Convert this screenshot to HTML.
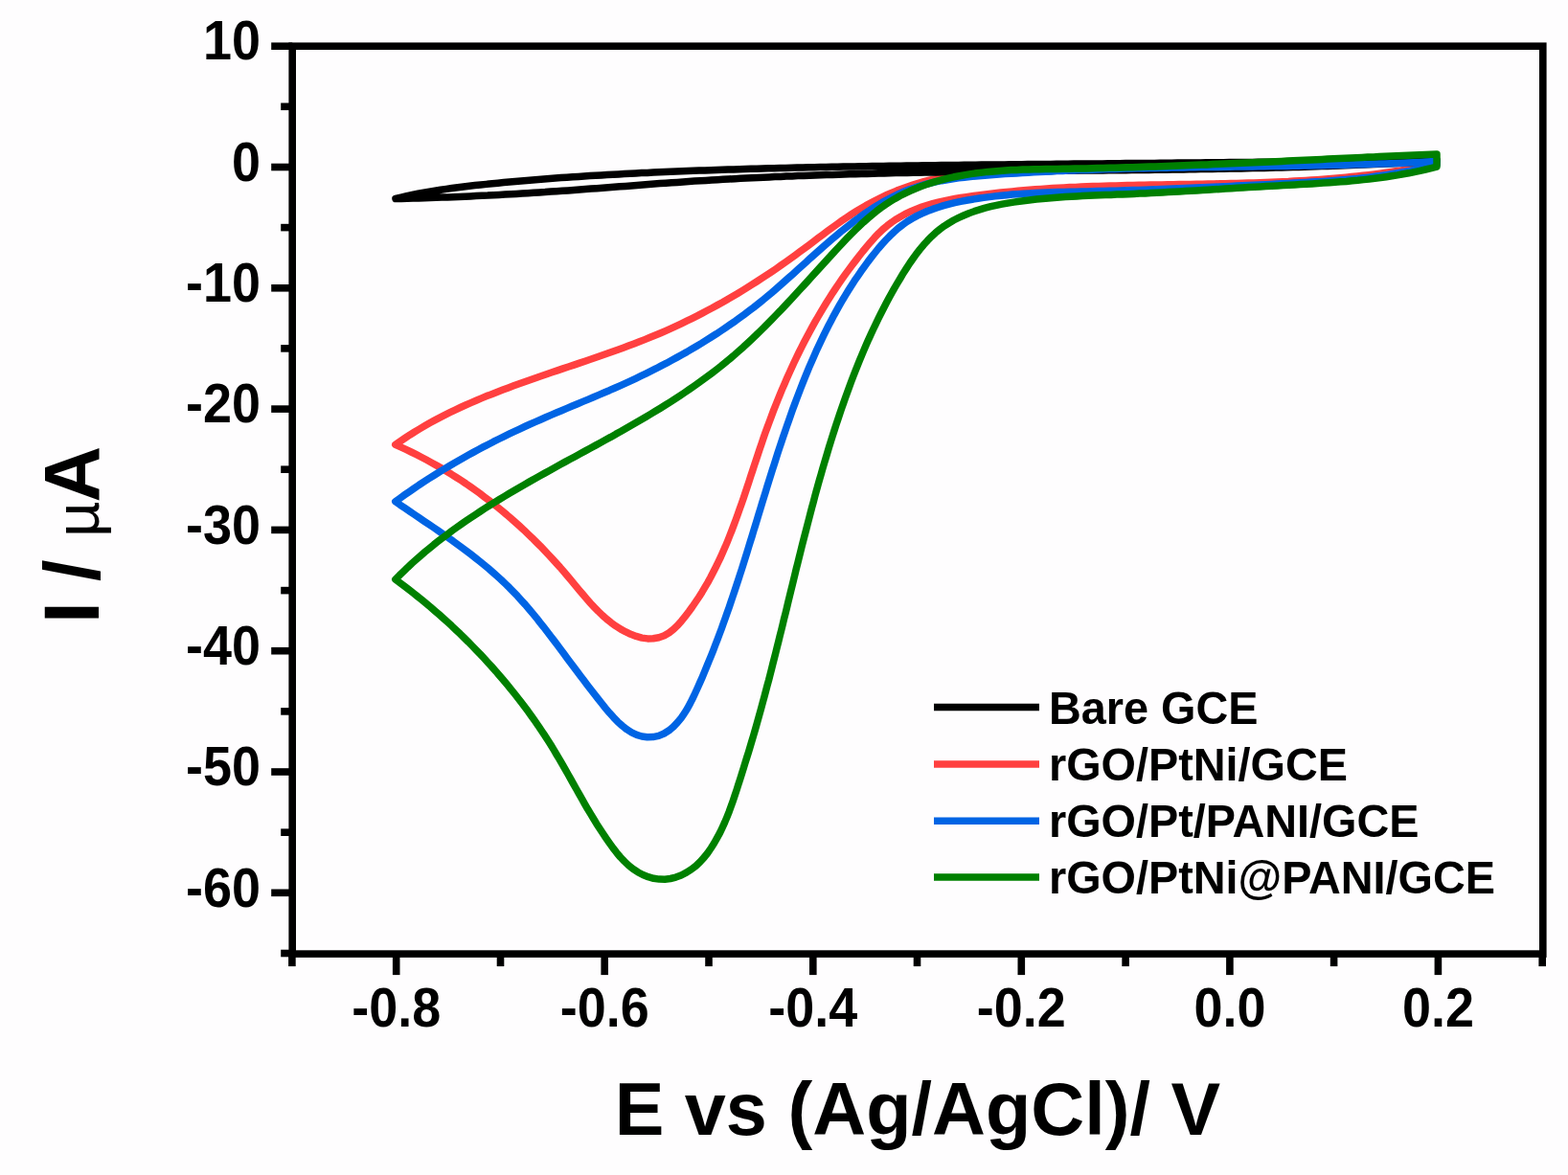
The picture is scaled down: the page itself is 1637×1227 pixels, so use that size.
<!DOCTYPE html>
<html><head><meta charset="utf-8"><title>CV plot</title>
<style>
html,body{margin:0;padding:0;background:#fff;}
body{width:1637px;height:1227px;overflow:hidden;}
svg{display:block;}
text{font-family:"Liberation Sans",Arial,sans-serif;font-weight:bold;fill:#000;}
</style></head><body>
<svg width="1637" height="1227" viewBox="0 0 1637 1227">
<rect width="1637" height="1227" fill="#fefdfe"/>
<g fill="none" stroke-width="7.5" stroke-linejoin="round" stroke-linecap="round">
<path stroke="#ff4040" d="M1500.0 168.5L1493.9 168.6L1487.9 168.7L1481.8 168.8L1475.8 169.0L1469.7 169.1L1463.7 169.2L1457.6 169.3L1451.6 169.5L1445.5 169.6L1439.5 169.7L1433.5 169.9L1427.4 170.0L1421.4 170.1L1415.4 170.3L1409.4 170.4L1403.3 170.6L1397.3 170.7L1391.3 170.9L1385.3 171.0L1379.3 171.2L1373.3 171.3L1367.3 171.4L1361.2 171.6L1355.2 171.8L1349.2 171.9L1343.2 172.1L1337.2 172.2L1331.2 172.4L1325.2 172.5L1319.2 172.7L1313.2 172.8L1307.2 173.0L1301.2 173.1L1295.2 173.3L1289.2 173.5L1283.2 173.6L1277.2 173.8L1271.2 173.9L1265.2 174.1L1259.2 174.2L1253.2 174.4L1247.2 174.5L1241.2 174.7L1235.1 174.8L1229.1 175.0L1223.1 175.1L1217.1 175.3L1211.1 175.4L1205.1 175.6L1199.1 175.7L1193.0 175.9L1187.0 176.0L1181.0 176.2L1175.0 176.3L1168.9 176.5L1162.9 176.6L1156.9 176.7L1150.8 176.9L1144.8 177.0L1138.7 177.1L1132.7 177.3L1126.6 177.4L1120.6 177.5L1114.5 177.6L1108.5 177.8L1102.4 177.9L1096.3 178.0L1090.3 178.1L1084.2 178.2L1078.1 178.3L1072.0 178.4L1065.9 178.5L1059.8 178.7L1053.7 178.8L1047.7 179.0L1041.6 179.3L1035.5 179.5L1029.5 179.9L1023.5 180.3L1017.4 180.7L1011.4 181.3L1005.5 182.0L999.5 182.7L993.6 183.6L987.7 184.5L981.8 185.6L976.0 186.8L970.2 188.2L964.4 189.7L958.7 191.3L953.0 193.1L947.4 195.0L941.8 197.0L936.2 199.1L930.7 201.4L925.3 203.8L919.9 206.3L914.5 209.0L909.2 211.8L904.0 214.6L898.8 217.7L893.7 220.8L888.6 224.0L883.6 227.3L878.7 230.7L873.7 234.2L868.8 237.7L863.9 241.3L859.1 244.9L854.2 248.6L849.4 252.2L844.5 255.9L839.7 259.5L834.8 263.1L829.9 266.7L825.0 270.3L820.1 273.8L815.2 277.2L810.2 280.7L805.2 284.1L800.2 287.4L795.2 290.7L790.1 294.0L785.1 297.2L780.0 300.4L774.8 303.6L769.7 306.7L764.5 309.7L759.4 312.7L754.2 315.7L748.9 318.6L743.7 321.5L738.4 324.3L733.1 327.1L727.8 329.9L722.4 332.6L717.0 335.2L711.6 337.8L706.2 340.3L700.8 342.8L695.3 345.3L689.8 347.7L684.3 350.0L678.7 352.3L673.1 354.6L667.5 356.8L661.9 358.9L656.3 361.1L650.6 363.2L645.0 365.2L639.3 367.3L633.6 369.3L627.9 371.3L622.2 373.3L616.4 375.2L610.7 377.2L605.0 379.1L599.2 381.1L593.5 383.0L587.8 384.9L582.0 386.9L576.3 388.8L570.6 390.8L564.8 392.7L559.1 394.7L553.4 396.7L547.7 398.7L542.0 400.7L536.3 402.8L530.7 404.9L525.0 407.0L519.4 409.2L513.8 411.4L508.2 413.6L502.6 415.9L497.1 418.2L491.6 420.6L486.1 423.0L480.6 425.5L475.2 428.1L469.8 430.7L464.4 433.4L459.1 436.1L453.8 438.9L448.5 441.8L443.3 444.8L438.1 447.9L432.9 451.0L427.8 454.2L422.8 457.5L417.8 460.9L412.8 464.4L418.4 466.9L423.9 469.4L429.3 472.0L434.7 474.7L440.1 477.5L445.4 480.3L450.7 483.2L455.9 486.1L461.1 489.1L466.3 492.2L471.4 495.3L476.4 498.5L481.4 501.7L486.4 505.0L491.3 508.4L496.1 511.8L501.0 515.3L505.7 518.9L510.5 522.5L515.2 526.2L519.8 529.9L524.4 533.7L529.0 537.5L533.5 541.4L538.0 545.4L542.5 549.4L546.9 553.4L551.2 557.6L555.5 561.7L559.8 566.0L564.1 570.2L568.3 574.6L572.4 579.0L576.5 583.4L580.6 587.9L584.7 592.4L588.7 597.0L592.7 601.7L596.6 606.4L600.5 611.1L604.4 615.8L608.4 620.5L612.3 625.1L616.3 629.7L620.4 634.1L624.6 638.4L629.0 642.6L633.4 646.5L638.0 650.2L642.8 653.7L647.8 656.9L653.0 659.7L658.5 662.3L664.2 664.4L670.1 666.1L676.1 666.9L682.0 666.8L687.9 665.7L693.5 663.7L698.6 660.7L703.3 657.0L707.7 652.8L711.7 648.2L715.6 643.3L719.3 638.5L722.9 633.5L726.3 628.5L729.7 623.5L732.9 618.4L736.0 613.2L739.0 608.1L741.9 602.8L744.6 597.5L747.3 592.2L749.9 586.9L752.5 581.5L754.9 576.0L757.3 570.6L759.6 565.1L761.8 559.5L764.0 554.0L766.1 548.4L768.2 542.8L770.2 537.2L772.2 531.5L774.2 525.9L776.2 520.2L778.1 514.5L780.0 508.8L781.9 503.1L783.7 497.4L785.6 491.7L787.5 485.9L789.4 480.2L791.3 474.5L793.2 468.8L795.2 463.0L797.1 457.3L799.1 451.6L801.2 445.9L803.3 440.2L805.4 434.6L807.5 428.9L809.7 423.3L812.0 417.6L814.3 412.0L816.6 406.4L819.0 400.9L821.4 395.3L823.9 389.8L826.4 384.3L828.9 378.8L831.5 373.4L834.1 368.0L836.8 362.6L839.5 357.3L842.3 351.9L845.1 346.7L848.0 341.4L850.9 336.2L853.9 331.0L856.9 325.9L859.9 320.8L863.0 315.7L866.2 310.7L869.3 305.8L872.6 300.9L875.9 296.0L879.2 291.2L882.6 286.4L886.1 281.6L889.7 276.8L893.3 272.1L897.0 267.3L900.8 262.5L904.8 257.7L908.8 252.9L913.0 248.2L917.3 243.7L921.7 239.5L926.4 235.6L931.1 232.0L936.0 228.7L941.1 225.7L946.3 222.9L951.6 220.4L957.0 218.2L962.5 216.1L968.1 214.3L973.7 212.6L979.5 211.1L985.3 209.8L991.1 208.6L997.0 207.5L1002.9 206.5L1008.9 205.6L1014.9 204.7L1020.9 203.9L1026.8 203.1L1032.8 202.4L1038.8 201.7L1044.8 201.1L1050.8 200.5L1056.8 199.9L1062.8 199.3L1068.8 198.8L1074.8 198.3L1080.8 197.8L1086.8 197.4L1092.8 197.0L1098.8 196.6L1104.8 196.3L1110.8 195.9L1116.8 195.6L1122.8 195.4L1128.8 195.1L1134.8 194.8L1140.8 194.6L1146.8 194.4L1152.8 194.2L1158.9 194.0L1164.9 193.9L1170.9 193.7L1176.9 193.5L1182.9 193.4L1188.9 193.3L1194.9 193.2L1200.9 193.1L1207.0 193.0L1213.0 192.9L1219.0 192.8L1225.0 192.7L1231.0 192.6L1237.0 192.5L1243.0 192.4L1249.1 192.3L1255.1 192.2L1261.1 192.1L1267.1 192.0L1273.1 191.8L1279.1 191.7L1285.1 191.6L1291.1 191.4L1297.1 191.3L1303.1 191.1L1309.1 190.9L1315.1 190.7L1321.1 190.5L1327.1 190.3L1333.1 190.0L1339.1 189.7L1345.1 189.5L1351.1 189.1L1357.1 188.8L1363.1 188.4L1369.0 188.1L1375.0 187.7L1381.0 187.2L1387.0 186.8L1393.0 186.3L1398.9 185.7L1404.9 185.2L1410.9 184.6L1416.8 184.0L1422.8 183.3L1428.8 182.6L1434.7 181.9L1440.7 181.1L1446.6 180.3L1452.6 179.4L1458.5 178.5L1464.4 177.6L1470.4 176.6L1476.3 175.6L1482.2 174.5L1488.2 173.4L1494.1 172.2L1500.0 171.0Z"/>
<path stroke="#000" d="M1500.0 167.0L1494.0 167.1L1488.0 167.2L1481.9 167.3L1475.9 167.4L1469.9 167.4L1463.9 167.5L1457.9 167.6L1451.9 167.7L1445.8 167.8L1439.8 167.8L1433.8 167.9L1427.8 168.0L1421.8 168.1L1415.8 168.2L1409.7 168.2L1403.7 168.3L1397.7 168.4L1391.7 168.4L1385.7 168.5L1379.7 168.6L1373.6 168.7L1367.6 168.7L1361.6 168.8L1355.6 168.9L1349.6 168.9L1343.6 169.0L1337.5 169.1L1331.5 169.1L1325.5 169.2L1319.5 169.2L1313.5 169.3L1307.5 169.4L1301.5 169.4L1295.4 169.5L1289.4 169.5L1283.4 169.6L1277.4 169.7L1271.4 169.7L1265.4 169.8L1259.3 169.8L1253.3 169.9L1247.3 170.0L1241.3 170.0L1235.3 170.1L1229.3 170.1L1223.2 170.2L1217.2 170.2L1211.2 170.3L1205.2 170.4L1199.2 170.4L1193.2 170.5L1187.1 170.5L1181.1 170.6L1175.1 170.6L1169.1 170.7L1163.1 170.7L1157.1 170.8L1151.0 170.9L1145.0 170.9L1139.0 171.0L1133.0 171.0L1127.0 171.1L1121.0 171.1L1114.9 171.2L1108.9 171.3L1102.9 171.3L1096.9 171.4L1090.9 171.4L1084.9 171.5L1078.8 171.6L1072.8 171.6L1066.8 171.7L1060.8 171.7L1054.8 171.8L1048.8 171.9L1042.7 171.9L1036.7 172.0L1030.7 172.1L1024.7 172.1L1018.7 172.2L1012.7 172.3L1006.6 172.3L1000.6 172.4L994.6 172.5L988.6 172.5L982.6 172.6L976.6 172.7L970.5 172.8L964.5 172.8L958.5 172.9L952.5 173.0L946.5 173.1L940.5 173.2L934.4 173.2L928.4 173.3L922.4 173.4L916.4 173.5L910.4 173.6L904.4 173.7L898.3 173.8L892.3 173.9L886.3 174.0L880.3 174.1L874.3 174.2L868.3 174.3L862.3 174.5L856.2 174.6L850.2 174.7L844.2 174.8L838.2 175.0L832.2 175.1L826.2 175.2L820.1 175.4L814.1 175.5L808.1 175.7L802.1 175.8L796.1 176.0L790.1 176.2L784.1 176.3L778.0 176.5L772.0 176.7L766.0 176.9L760.0 177.1L754.0 177.3L748.0 177.5L742.0 177.7L736.0 177.9L729.9 178.1L723.9 178.3L717.9 178.6L711.9 178.8L705.9 179.0L699.9 179.3L693.9 179.5L687.9 179.8L681.9 180.1L675.8 180.4L669.8 180.6L663.8 180.9L657.8 181.2L651.8 181.5L645.8 181.9L639.8 182.2L633.8 182.5L627.8 182.9L621.8 183.2L615.8 183.6L609.8 184.0L603.8 184.4L597.8 184.8L591.8 185.2L585.8 185.6L579.8 186.0L573.8 186.5L567.8 187.0L561.8 187.4L555.8 187.9L549.8 188.4L543.8 188.9L537.8 189.5L531.8 190.0L525.8 190.6L519.8 191.2L513.8 191.7L507.8 192.4L501.8 193.0L495.8 193.6L489.9 194.3L483.9 195.0L477.9 195.8L471.9 196.5L466.0 197.4L460.0 198.2L454.1 199.2L448.2 200.1L442.3 201.2L436.4 202.3L430.5 203.5L424.7 204.7L418.8 206.1L413.0 207.5L419.0 207.4L425.0 207.2L431.0 207.1L437.0 206.9L443.1 206.7L449.1 206.5L455.1 206.3L461.1 206.1L467.1 205.9L473.1 205.7L479.1 205.4L485.1 205.2L491.1 204.9L497.1 204.6L503.1 204.3L509.1 204.1L515.1 203.7L521.1 203.4L527.1 203.1L533.1 202.8L539.1 202.4L545.1 202.1L551.1 201.7L557.1 201.3L563.1 200.9L569.1 200.6L575.1 200.1L581.1 199.7L587.1 199.3L593.1 198.9L599.1 198.5L605.1 198.0L611.1 197.6L617.1 197.1L623.1 196.7L629.1 196.2L635.1 195.7L641.1 195.3L647.1 194.8L653.1 194.4L659.0 193.9L665.0 193.4L671.0 193.0L677.0 192.5L683.0 192.1L689.0 191.6L695.0 191.2L701.0 190.8L707.0 190.4L713.0 189.9L719.0 189.5L725.0 189.1L731.0 188.8L737.0 188.4L743.0 188.0L749.0 187.7L755.0 187.3L761.0 187.0L767.0 186.7L773.0 186.3L779.0 186.0L785.0 185.7L791.0 185.4L797.0 185.2L803.0 184.9L809.0 184.6L815.0 184.4L821.0 184.1L827.0 183.9L833.0 183.6L839.0 183.4L845.0 183.2L851.0 183.0L857.0 182.8L863.0 182.6L869.0 182.4L875.1 182.2L881.1 182.0L887.1 181.8L893.1 181.7L899.1 181.5L905.1 181.4L911.1 181.2L917.1 181.1L923.1 180.9L929.1 180.8L935.1 180.6L941.1 180.5L947.1 180.4L953.2 180.3L959.2 180.2L965.2 180.1L971.2 180.0L977.2 179.9L983.2 179.8L989.2 179.7L995.2 179.6L1001.2 179.5L1007.3 179.4L1013.3 179.3L1019.3 179.2L1025.3 179.2L1031.3 179.1L1037.3 179.0L1043.3 179.0L1049.3 178.9L1055.3 178.8L1061.4 178.8L1067.4 178.7L1073.4 178.6L1079.4 178.6L1085.4 178.5L1091.4 178.5L1097.4 178.4L1103.4 178.3L1109.5 178.3L1115.5 178.2L1121.5 178.2L1127.5 178.1L1133.5 178.1L1139.5 178.0L1145.5 178.0L1151.5 177.9L1157.6 177.8L1163.6 177.8L1169.6 177.7L1175.6 177.7L1181.6 177.6L1187.6 177.5L1193.6 177.5L1199.6 177.4L1205.7 177.3L1211.7 177.2L1217.7 177.2L1223.7 177.1L1229.7 177.0L1235.7 176.9L1241.7 176.8L1247.7 176.7L1253.7 176.6L1259.8 176.6L1265.8 176.4L1271.8 176.3L1277.8 176.2L1283.8 176.1L1289.8 176.0L1295.8 175.9L1301.8 175.8L1307.8 175.6L1313.8 175.5L1319.9 175.4L1325.9 175.2L1331.9 175.1L1337.9 174.9L1343.9 174.7L1349.9 174.6L1355.9 174.4L1361.9 174.2L1367.9 174.0L1373.9 173.8L1379.9 173.6L1385.9 173.4L1391.9 173.2L1398.0 173.0L1404.0 172.8L1410.0 172.5L1416.0 172.3L1422.0 172.0L1428.0 171.8L1434.0 171.5L1440.0 171.2L1446.0 170.9L1452.0 170.7L1458.0 170.4L1464.0 170.0L1470.0 169.7L1476.0 169.4L1482.0 169.1L1488.0 168.7L1494.0 168.4L1500.0 168.0Z"/>
<path stroke="#0064e4" d="M1500.0 168.5L1494.0 168.8L1487.9 169.1L1481.9 169.4L1475.9 169.7L1469.8 170.0L1463.8 170.2L1457.8 170.4L1451.8 170.7L1445.8 170.9L1439.7 171.1L1433.7 171.3L1427.7 171.5L1421.7 171.7L1415.7 171.8L1409.7 172.0L1403.7 172.2L1397.7 172.3L1391.7 172.5L1385.7 172.6L1379.7 172.7L1373.6 172.8L1367.6 173.0L1361.6 173.1L1355.6 173.2L1349.6 173.3L1343.6 173.4L1337.6 173.5L1331.7 173.6L1325.7 173.6L1319.7 173.7L1313.7 173.8L1307.7 173.9L1301.7 174.0L1295.7 174.1L1289.7 174.1L1283.7 174.2L1277.7 174.3L1271.7 174.4L1265.7 174.5L1259.7 174.5L1253.7 174.6L1247.7 174.7L1241.7 174.8L1235.7 174.9L1229.7 175.0L1223.7 175.1L1217.7 175.2L1211.7 175.3L1205.7 175.4L1199.7 175.6L1193.7 175.7L1187.7 175.8L1181.7 176.0L1175.7 176.1L1169.6 176.3L1163.6 176.4L1157.6 176.6L1151.6 176.8L1145.6 177.0L1139.6 177.2L1133.6 177.4L1127.5 177.6L1121.5 177.9L1115.5 178.1L1109.5 178.4L1103.4 178.6L1097.4 178.9L1091.4 179.2L1085.3 179.5L1079.3 179.8L1073.2 180.2L1067.2 180.5L1061.2 180.9L1055.1 181.3L1049.0 181.6L1043.0 182.1L1036.9 182.5L1030.9 182.9L1024.8 183.4L1018.8 183.9L1012.8 184.5L1006.7 185.2L1000.8 185.9L994.8 186.8L988.9 187.7L983.0 188.7L977.1 189.9L971.4 191.2L965.6 192.7L959.9 194.3L954.3 196.2L948.8 198.1L943.3 200.3L937.9 202.7L932.5 205.3L927.3 208.0L922.1 210.9L916.9 213.9L911.9 217.0L906.8 220.3L901.9 223.7L897.0 227.2L892.1 230.8L887.4 234.4L882.6 238.2L877.9 241.9L873.3 245.8L868.7 249.7L864.1 253.6L859.5 257.6L855.0 261.6L850.5 265.6L846.0 269.6L841.6 273.7L837.1 277.7L832.6 281.8L828.1 285.9L823.6 289.9L819.1 293.9L814.6 297.9L810.1 301.8L805.5 305.8L800.9 309.6L796.3 313.5L791.6 317.2L786.9 321.0L782.1 324.6L777.3 328.2L772.4 331.8L767.6 335.3L762.7 338.7L757.7 342.1L752.7 345.5L747.7 348.8L742.6 352.0L737.6 355.2L732.5 358.4L727.3 361.5L722.1 364.5L716.9 367.6L711.7 370.5L706.5 373.4L701.2 376.3L695.9 379.2L690.5 381.9L685.2 384.7L679.8 387.4L674.4 390.1L669.0 392.7L663.6 395.3L658.2 397.8L652.7 400.3L647.2 402.8L641.7 405.2L636.2 407.7L630.7 410.0L625.2 412.4L619.6 414.7L614.1 417.1L608.5 419.4L603.0 421.7L597.4 424.0L591.9 426.4L586.4 428.7L580.8 431.0L575.3 433.4L569.8 435.8L564.3 438.2L558.8 440.6L553.3 443.0L547.8 445.5L542.4 448.1L536.9 450.6L531.5 453.2L526.1 455.8L520.7 458.5L515.3 461.2L510.0 464.0L504.7 466.7L499.4 469.5L494.1 472.4L488.8 475.3L483.6 478.2L478.3 481.2L473.1 484.2L468.0 487.3L462.8 490.4L457.7 493.5L452.6 496.7L447.5 499.9L442.5 503.2L437.4 506.5L432.5 509.9L427.5 513.3L422.6 516.7L417.7 520.2L412.8 523.8L417.8 527.3L422.9 530.7L427.9 534.1L432.9 537.5L437.9 540.9L442.9 544.3L447.9 547.6L452.9 551.0L457.8 554.4L462.7 557.8L467.6 561.3L472.5 564.7L477.3 568.2L482.1 571.7L486.8 575.2L491.5 578.8L496.2 582.5L500.8 586.2L505.4 589.9L510.0 593.7L514.5 597.6L518.9 601.5L523.3 605.5L527.6 609.6L531.9 613.8L536.1 618.1L540.3 622.4L544.3 626.9L548.4 631.4L552.3 636.0L556.2 640.6L560.1 645.3L563.8 650.1L567.6 654.8L571.2 659.5L574.8 664.2L578.4 668.9L581.9 673.6L585.4 678.2L588.8 682.8L592.2 687.4L595.6 691.9L599.0 696.5L602.4 701.1L605.9 705.7L609.4 710.3L612.9 714.9L616.6 719.7L620.3 724.5L624.1 729.3L628.0 734.3L632.0 739.3L636.2 744.3L640.5 749.1L644.9 753.7L649.6 757.9L654.4 761.7L659.4 764.9L664.7 767.4L670.1 769.0L675.8 769.8L681.7 769.6L687.7 768.4L693.3 766.0L698.4 762.8L703.1 758.8L707.3 754.4L711.1 749.8L714.5 744.9L717.7 739.7L720.6 734.4L723.3 729.0L725.9 723.5L728.4 718.0L730.9 712.4L733.3 706.9L735.6 701.3L737.9 695.8L740.2 690.2L742.5 684.6L744.7 679.1L746.8 673.5L749.0 667.9L751.1 662.3L753.2 656.7L755.2 651.1L757.2 645.5L759.2 639.8L761.2 634.2L763.1 628.5L765.0 622.9L766.9 617.2L768.8 611.5L770.7 605.8L772.5 600.1L774.4 594.4L776.2 588.7L778.0 582.9L779.8 577.2L781.5 571.5L783.3 565.7L785.1 560.0L786.8 554.2L788.6 548.5L790.4 542.7L792.1 536.9L793.9 531.2L795.6 525.4L797.4 519.7L799.2 513.9L800.9 508.1L802.7 502.4L804.5 496.6L806.3 490.9L808.2 485.1L810.0 479.4L811.8 473.7L813.7 467.9L815.6 462.2L817.5 456.5L819.5 450.8L821.4 445.1L823.4 439.4L825.4 433.7L827.4 428.1L829.5 422.4L831.6 416.8L833.7 411.2L835.9 405.5L838.1 399.9L840.3 394.3L842.6 388.8L844.9 383.2L847.3 377.7L849.7 372.2L852.1 366.7L854.6 361.3L857.2 355.8L859.8 350.4L862.4 345.1L865.1 339.7L867.9 334.4L870.7 329.1L873.6 323.9L876.5 318.7L879.5 313.5L882.6 308.4L885.7 303.3L888.9 298.2L892.1 293.2L895.5 288.3L898.9 283.3L902.4 278.5L905.9 273.6L909.5 268.9L913.2 264.2L917.0 259.5L920.9 255.0L925.0 250.5L929.1 246.3L933.4 242.2L937.8 238.3L942.4 234.7L947.2 231.3L952.2 228.3L957.4 225.4L962.7 222.9L968.1 220.5L973.7 218.4L979.4 216.5L985.2 214.7L991.0 213.1L996.9 211.7L1002.9 210.4L1008.9 209.3L1014.9 208.2L1020.9 207.3L1026.9 206.4L1032.9 205.6L1038.9 204.9L1044.9 204.2L1050.9 203.7L1056.9 203.1L1062.9 202.7L1068.9 202.3L1074.9 201.9L1080.9 201.6L1086.9 201.3L1092.9 201.0L1098.9 200.8L1104.9 200.6L1110.9 200.5L1116.9 200.3L1122.8 200.2L1128.8 200.0L1134.8 199.9L1140.8 199.8L1146.8 199.6L1152.8 199.5L1158.8 199.3L1164.8 199.2L1170.8 199.0L1176.8 198.8L1182.8 198.6L1188.8 198.4L1194.8 198.2L1200.9 198.0L1206.9 197.8L1212.9 197.5L1218.9 197.3L1224.9 197.1L1230.9 196.8L1236.9 196.6L1242.9 196.3L1249.0 196.1L1255.0 195.8L1261.0 195.5L1267.0 195.3L1273.0 195.0L1279.0 194.7L1285.1 194.4L1291.1 194.1L1297.1 193.8L1303.1 193.5L1309.1 193.2L1315.1 193.0L1321.2 192.7L1327.2 192.4L1333.2 192.1L1339.2 191.8L1345.2 191.5L1351.2 191.1L1357.3 190.8L1363.3 190.5L1369.3 190.1L1375.3 189.8L1381.3 189.4L1387.3 189.0L1393.3 188.5L1399.3 188.0L1405.3 187.5L1411.2 187.0L1417.2 186.4L1423.2 185.8L1429.1 185.1L1435.1 184.3L1441.0 183.5L1447.0 182.7L1452.9 181.8L1458.8 180.8L1464.7 179.8L1470.6 178.7L1476.5 177.5L1482.4 176.3L1488.3 174.9L1494.2 173.5L1500.0 172.0Z"/>
<path stroke="#008000" d="M1500.0 161.0L1494.0 161.2L1488.0 161.5L1481.9 161.7L1475.9 162.0L1469.9 162.3L1463.9 162.5L1457.9 162.8L1451.9 163.0L1445.9 163.3L1439.9 163.6L1433.9 163.9L1427.8 164.1L1421.8 164.4L1415.8 164.7L1409.8 165.0L1403.8 165.3L1397.8 165.5L1391.9 165.8L1385.9 166.1L1379.9 166.4L1373.9 166.7L1367.9 167.0L1361.9 167.3L1355.9 167.5L1349.9 167.8L1343.9 168.1L1337.9 168.4L1331.9 168.7L1325.9 168.9L1319.9 169.2L1314.0 169.5L1308.0 169.8L1302.0 170.0L1296.0 170.3L1290.0 170.6L1284.0 170.8L1278.0 171.1L1272.0 171.3L1266.0 171.6L1260.0 171.9L1254.0 172.1L1248.0 172.3L1242.0 172.6L1236.0 172.8L1230.0 173.0L1224.0 173.3L1218.0 173.5L1212.0 173.7L1206.0 173.9L1200.0 174.1L1194.0 174.3L1188.0 174.5L1182.0 174.7L1176.0 174.8L1170.0 175.0L1164.0 175.2L1158.0 175.3L1151.9 175.5L1145.9 175.6L1139.9 175.8L1133.9 175.9L1127.9 176.0L1121.8 176.1L1115.8 176.2L1109.8 176.3L1103.7 176.4L1097.7 176.5L1091.6 176.6L1085.6 176.7L1079.6 176.8L1073.5 176.9L1067.5 177.1L1061.5 177.4L1055.5 177.6L1049.4 178.0L1043.4 178.4L1037.4 178.9L1031.4 179.4L1025.5 180.1L1019.5 180.8L1013.5 181.6L1007.6 182.6L1001.7 183.7L995.8 184.8L989.9 186.2L984.0 187.6L978.3 189.2L972.5 190.9L966.8 192.8L961.2 194.8L955.7 197.0L950.3 199.3L944.9 201.8L939.6 204.5L934.5 207.4L929.5 210.4L924.5 213.6L919.7 217.0L915.0 220.6L910.4 224.3L905.9 228.1L901.4 232.1L897.0 236.2L892.7 240.3L888.4 244.6L884.2 248.9L880.0 253.3L875.9 257.7L871.8 262.1L867.7 266.6L863.6 271.1L859.5 275.6L855.4 280.1L851.3 284.6L847.3 289.1L843.2 293.6L839.1 298.1L835.0 302.5L830.9 307.0L826.8 311.5L822.7 315.9L818.5 320.3L814.4 324.7L810.2 329.0L806.0 333.3L801.8 337.6L797.6 341.9L793.3 346.1L789.0 350.3L784.6 354.4L780.3 358.5L775.9 362.6L771.4 366.5L766.9 370.5L762.4 374.3L757.8 378.1L753.2 381.9L748.5 385.6L743.8 389.2L739.0 392.8L734.2 396.3L729.4 399.8L724.5 403.3L719.6 406.7L714.7 410.0L709.7 413.3L704.7 416.6L699.7 419.8L694.6 423.0L689.5 426.2L684.4 429.3L679.3 432.4L674.1 435.5L668.9 438.5L663.7 441.5L658.5 444.5L653.3 447.5L648.1 450.5L642.8 453.4L637.6 456.4L632.3 459.3L627.0 462.2L621.7 465.1L616.4 468.0L611.1 470.9L605.8 473.8L600.5 476.7L595.2 479.5L589.9 482.4L584.6 485.3L579.3 488.2L574.0 491.2L568.7 494.1L563.5 497.0L558.2 500.0L553.0 502.9L547.7 505.9L542.5 508.9L537.3 512.0L532.1 515.0L527.0 518.1L521.8 521.2L516.7 524.4L511.6 527.5L506.6 530.7L501.5 534.0L496.5 537.3L491.5 540.6L486.6 543.9L481.6 547.4L476.8 550.8L471.9 554.3L467.1 557.9L462.3 561.5L457.6 565.1L452.9 568.8L448.3 572.6L443.6 576.4L439.1 580.3L434.6 584.3L430.1 588.3L425.7 592.4L421.4 596.6L417.0 600.8L412.8 605.1L417.4 608.5L422.1 612.0L426.7 615.5L431.3 619.1L435.8 622.7L440.4 626.4L444.9 630.2L449.4 633.9L453.9 637.8L458.4 641.7L462.8 645.6L467.2 649.6L471.6 653.6L475.9 657.7L480.3 661.8L484.5 666.0L488.8 670.2L493.0 674.5L497.2 678.8L501.4 683.1L505.5 687.5L509.5 691.9L513.6 696.4L517.6 700.9L521.5 705.5L525.4 710.0L529.3 714.7L533.1 719.3L536.9 724.0L540.6 728.7L544.3 733.5L547.9 738.3L551.5 743.1L555.0 748.0L558.5 752.9L561.9 757.8L565.2 762.8L568.5 767.7L571.8 772.8L575.0 777.8L578.1 782.9L581.1 788.0L584.2 793.1L587.1 798.2L590.1 803.4L593.0 808.5L595.9 813.7L598.8 818.9L601.7 824.0L604.6 829.2L607.6 834.4L610.5 839.6L613.5 844.8L616.6 849.9L619.7 855.0L622.8 860.2L626.1 865.3L629.4 870.3L632.8 875.4L636.3 880.4L639.9 885.4L643.7 890.3L647.6 895.0L651.8 899.4L656.2 903.6L660.9 907.4L665.9 910.7L671.2 913.5L676.7 915.7L682.4 917.3L688.2 918.1L694.1 918.2L699.9 917.5L705.6 916.1L711.2 914.0L716.6 911.2L721.7 907.9L726.5 904.2L730.9 900.0L735.1 895.4L738.9 890.6L742.4 885.5L745.7 880.3L748.7 874.9L751.6 869.6L754.2 864.1L756.7 858.6L759.0 853.1L761.2 847.6L763.2 842.0L765.2 836.4L767.1 830.8L769.0 825.1L770.8 819.4L772.6 813.8L774.4 808.1L776.2 802.4L777.9 796.7L779.7 791.0L781.5 785.3L783.2 779.6L784.9 773.9L786.6 768.2L788.3 762.4L789.9 756.7L791.5 750.9L793.1 745.2L794.7 739.4L796.3 733.6L797.9 727.8L799.4 722.0L800.9 716.2L802.5 710.5L804.0 704.6L805.5 698.8L806.9 693.0L808.4 687.2L809.9 681.4L811.3 675.6L812.8 669.8L814.2 663.9L815.7 658.1L817.1 652.3L818.5 646.4L820.0 640.6L821.4 634.8L822.8 628.9L824.2 623.1L825.6 617.3L827.1 611.4L828.5 605.6L829.9 599.8L831.3 593.9L832.8 588.1L834.2 582.3L835.7 576.4L837.1 570.6L838.6 564.8L840.1 559.0L841.6 553.2L843.1 547.4L844.6 541.6L846.1 535.8L847.6 530.0L849.2 524.2L850.7 518.4L852.3 512.6L853.9 506.8L855.5 501.1L857.2 495.3L858.8 489.6L860.5 483.8L862.2 478.1L863.9 472.4L865.6 466.6L867.4 460.9L869.2 455.2L871.0 449.5L872.8 443.9L874.7 438.2L876.6 432.5L878.5 426.9L880.5 421.2L882.5 415.6L884.5 410.0L886.5 404.4L888.6 398.8L890.7 393.2L892.9 387.7L895.1 382.1L897.3 376.6L899.6 371.1L901.9 365.6L904.3 360.1L906.7 354.6L909.2 349.2L911.7 343.7L914.3 338.3L916.9 332.9L919.6 327.5L922.3 322.2L925.1 316.8L927.9 311.5L930.8 306.2L933.8 300.9L936.9 295.7L940.0 290.5L943.1 285.2L946.4 280.1L949.7 275.0L953.2 270.0L956.7 265.1L960.4 260.4L964.2 255.8L968.2 251.4L972.3 247.2L976.6 243.2L981.1 239.5L985.7 236.1L990.6 233.0L995.6 230.0L1000.8 227.4L1006.1 225.0L1011.5 222.7L1017.1 220.7L1022.8 218.9L1028.5 217.2L1034.3 215.7L1040.3 214.4L1046.2 213.2L1052.2 212.1L1058.2 211.1L1064.3 210.3L1070.3 209.5L1076.3 208.7L1082.3 208.1L1088.4 207.5L1094.4 206.9L1100.3 206.5L1106.3 206.0L1112.3 205.6L1118.3 205.2L1124.2 204.9L1130.2 204.6L1136.2 204.3L1142.1 204.1L1148.1 203.8L1154.0 203.6L1160.0 203.4L1165.9 203.1L1171.9 202.9L1177.9 202.7L1183.8 202.4L1189.8 202.1L1195.8 201.9L1201.7 201.6L1207.7 201.3L1213.7 201.0L1219.7 200.6L1225.7 200.3L1231.7 200.0L1237.7 199.6L1243.6 199.3L1249.6 198.9L1255.6 198.5L1261.6 198.2L1267.6 197.8L1273.6 197.4L1279.6 197.1L1285.6 196.7L1291.7 196.3L1297.7 196.0L1303.7 195.6L1309.7 195.2L1315.7 194.9L1321.7 194.5L1327.7 194.2L1333.7 193.9L1339.7 193.5L1345.7 193.2L1351.7 192.9L1357.7 192.6L1363.7 192.2L1369.7 191.9L1375.7 191.5L1381.7 191.1L1387.7 190.7L1393.7 190.3L1399.6 189.8L1405.6 189.4L1411.6 188.8L1417.5 188.3L1423.5 187.6L1429.4 187.0L1435.4 186.3L1441.3 185.5L1447.2 184.7L1453.1 183.8L1459.0 182.9L1464.9 181.8L1470.8 180.8L1476.6 179.6L1482.5 178.3L1488.3 177.0L1494.2 175.6L1500.0 174.1Z"/>
</g>
<g stroke="#000" stroke-width="7.6" fill="none">
<rect x="305.2" y="48.2" width="1305.6" height="947.9"/>
<line x1="283.2" y1="48.2" x2="305.2" y2="48.2"/>
<line x1="293.2" y1="111.3" x2="305.2" y2="111.3"/>
<line x1="283.2" y1="174.5" x2="305.2" y2="174.5"/>
<line x1="293.2" y1="237.6" x2="305.2" y2="237.6"/>
<line x1="283.2" y1="300.8" x2="305.2" y2="300.8"/>
<line x1="293.2" y1="363.9" x2="305.2" y2="363.9"/>
<line x1="283.2" y1="427.1" x2="305.2" y2="427.1"/>
<line x1="293.2" y1="490.2" x2="305.2" y2="490.2"/>
<line x1="283.2" y1="553.4" x2="305.2" y2="553.4"/>
<line x1="293.2" y1="616.6" x2="305.2" y2="616.6"/>
<line x1="283.2" y1="679.7" x2="305.2" y2="679.7"/>
<line x1="293.2" y1="742.9" x2="305.2" y2="742.9"/>
<line x1="283.2" y1="806.0" x2="305.2" y2="806.0"/>
<line x1="293.2" y1="869.2" x2="305.2" y2="869.2"/>
<line x1="283.2" y1="932.3" x2="305.2" y2="932.3"/>
<line x1="293.2" y1="995.5" x2="305.2" y2="995.5"/>
<line x1="304.9" y1="996.1" x2="304.9" y2="1009.1"/>
<line x1="413.7" y1="996.1" x2="413.7" y2="1018.1"/>
<line x1="522.5" y1="996.1" x2="522.5" y2="1009.1"/>
<line x1="631.2" y1="996.1" x2="631.2" y2="1018.1"/>
<line x1="740.0" y1="996.1" x2="740.0" y2="1009.1"/>
<line x1="848.8" y1="996.1" x2="848.8" y2="1018.1"/>
<line x1="957.5" y1="996.1" x2="957.5" y2="1009.1"/>
<line x1="1066.3" y1="996.1" x2="1066.3" y2="1018.1"/>
<line x1="1175.1" y1="996.1" x2="1175.1" y2="1009.1"/>
<line x1="1283.9" y1="996.1" x2="1283.9" y2="1018.1"/>
<line x1="1392.6" y1="996.1" x2="1392.6" y2="1009.1"/>
<line x1="1501.4" y1="996.1" x2="1501.4" y2="1018.1"/>
<line x1="1610.2" y1="996.1" x2="1610.2" y2="1009.1"/>
</g>
<g font-size="58" text-anchor="end">
<text transform="translate(272.0 62.4) scale(0.930 1)">10</text>
<text transform="translate(272.0 188.7) scale(0.930 1)">0</text>
<text transform="translate(272.0 315.0) scale(0.930 1)">-10</text>
<text transform="translate(272.0 441.3) scale(0.930 1)">-20</text>
<text transform="translate(272.0 567.6) scale(0.930 1)">-30</text>
<text transform="translate(272.0 693.9) scale(0.930 1)">-40</text>
<text transform="translate(272.0 820.2) scale(0.930 1)">-50</text>
<text transform="translate(272.0 946.5) scale(0.930 1)">-60</text>
</g>
<g font-size="58" text-anchor="middle">
<text transform="translate(413.7 1071.5) scale(0.930 1)">-0.8</text>
<text transform="translate(631.2 1071.5) scale(0.930 1)">-0.6</text>
<text transform="translate(848.8 1071.5) scale(0.930 1)">-0.4</text>
<text transform="translate(1066.3 1071.5) scale(0.930 1)">-0.2</text>
<text transform="translate(1283.9 1071.5) scale(0.930 1)">0.0</text>
<text transform="translate(1501.4 1071.5) scale(0.930 1)">0.2</text>
</g>
<text transform="translate(957.9 1184.8) scale(0.993 1)" font-size="78" text-anchor="middle">E vs (Ag/AgCl)/ V</text>
<text transform="translate(103.4 0) rotate(-90)" x="-651" y="0" font-size="81.4">I <tspan dx="-1.3">/</tspan> <tspan dx="0.8" font-size="65" style="font-weight:normal">µ</tspan><tspan dx="-1">A</tspan></text>
<g stroke-width="7.6" fill="none">
<line x1="975" y1="738.5" x2="1085" y2="738.5" stroke="#000"/>
<line x1="975" y1="798" x2="1085" y2="798" stroke="#ff4040"/>
<line x1="975" y1="857.2" x2="1085" y2="857.2" stroke="#0064e4"/>
<line x1="975" y1="916" x2="1085" y2="916" stroke="#008000"/>
</g>
<g font-size="48">
<text transform="translate(1095 755.7) scale(0.975 1)">Bare GCE</text>
<text transform="translate(1095 814.6) scale(0.975 1)">rGO/PtNi/GCE</text>
<text transform="translate(1095 873.6) scale(0.975 1)">rGO/Pt/PANI/GCE</text>
<text transform="translate(1095 932.5) scale(0.975 1)">rGO/PtNi@PANI/GCE</text>
</g>
</svg>
</body></html>
